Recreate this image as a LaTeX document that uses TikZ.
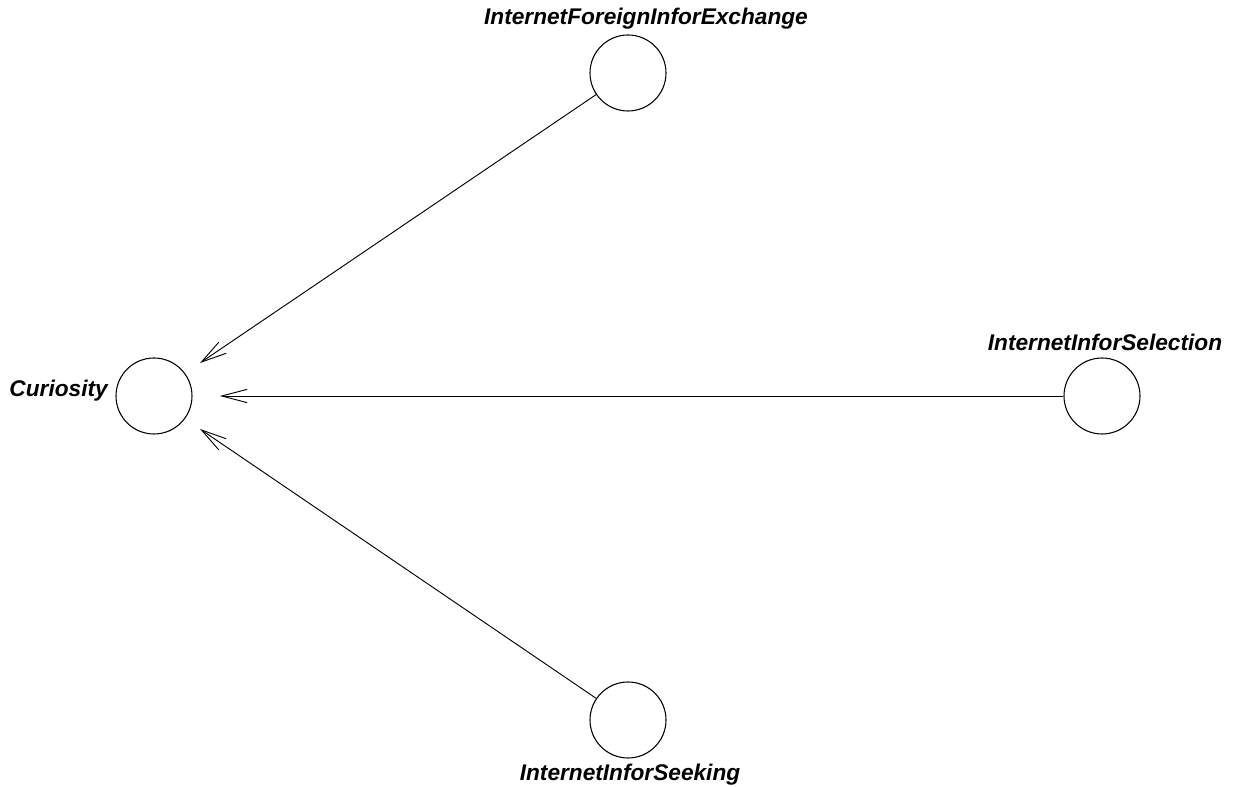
\documentclass[tikz,border=0pt]{standalone}
\usepackage{fontspec}
\setmainfont{Liberation Sans}
\usetikzlibrary{arrows.meta}
\begin{document}
\begin{tikzpicture}[x=0.75pt,y=-0.75pt,
  latent/.style={circle,draw,line width=0.8pt,minimum size=57pt,inner sep=0pt},
  lbl/.style={font=\fontsize{17}{20}\selectfont\bfseries\itshape,inner sep=0pt},
  path/.style={line width=0.7pt,-{Straight Barb[length=19pt,width=10pt,line width=0.7pt]}}]
\useasboundingbox (0,0) rectangle (1233,787);
\node[latent] (cur) at (154,396) {};
\node[latent] (ife) at (628,73) {};
\node[latent] (iis) at (1102,396) {};
\node[latent] (isk) at (628,720) {};
\node[lbl,anchor=east] (lcur) at (108,391) {Curiosity};
\node[lbl] (life) at (646,19) {InternetForeignInforExchange};
\node[lbl] (liis) at (1105,342) {InternetInforSelection};
\node[lbl] (lisk) at (630,775) {InternetInforSeeking};
\coordinate (t1) at (200,363);
\coordinate (t2) at (220,396);
\coordinate (t3) at (200,429);
\draw[path] (ife) -- (t1);
\draw[path] (iis) -- (t2);
\draw[path] (isk) -- (t3);
\end{tikzpicture}
\end{document}
